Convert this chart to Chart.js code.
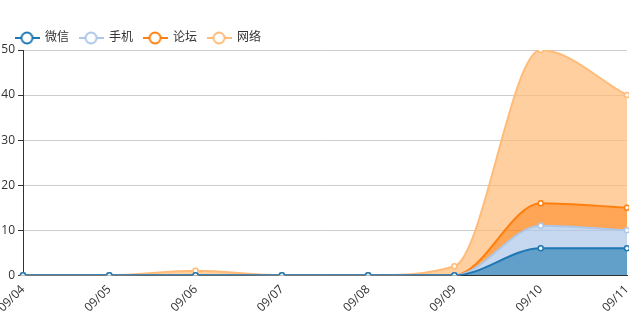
<!DOCTYPE html>
<html>
<head>
<meta charset="utf-8">
<script src="https://cdn.jsdelivr.net/npm/chart.js@4/dist/chart.umd.min.js"></script>
<style>
    html, body { margin: 0; padding: 0; background: #fff; }
    #wrap { width: 629px; height: 320px; }
</style>
</head>
<body>
<div id="wrap"><canvas id="chart" width="629" height="320"></canvas></div>
<script>
const labels = ['09/04', '09/05', '09/06', '09/07', '09/08', '09/09', '09/10', '09/11'];
const names = ['微信', '手机', '论坛', '网络'];
const colors = ['#1f77b4', '#aec7e8', '#ff7f0e', '#ffbb78'];
const fills = ['rgba(31,119,180,0.7)', 'rgba(174,199,232,0.7)', 'rgba(255,127,14,0.7)', 'rgba(255,187,120,0.7)'];

const weixin = [0, 0, 0, 0, 0, 0, 6, 6];
const shouji = [0, 0, 0, 0, 0, 0, 5, 4];
const luntan = [0, 0, 0, 0, 0, 0, 5, 5];
const wangluo = [0, 0, 1, 0, 0, 2, 34, 25];
const series = [weixin, shouji, luntan, wangluo];

const FONT = '"Open Sans", "Noto Sans CJK SC", sans-serif';

// legend icon: short line with an open circle
function legendIcon(color) {
    let c = document.createElement('canvas');
    c.width = 25;
    c.height = 14;
    let ctx = c.getContext('2d');
    ctx.strokeStyle = color;
    ctx.lineWidth = 2;
    ctx.beginPath();
    ctx.moveTo(0, 7);
    ctx.lineTo(25, 7);
    ctx.stroke();
    ctx.beginPath();
    ctx.arc(12.5, 7, 5.5, 0, Math.PI * 2);
    ctx.fillStyle = '#fff';
    ctx.fill();
    ctx.stroke();
    return c;
}

let datasets = series.map(function(data, i) {
    return {
        label: names[i],
        data: data,
        borderColor: colors[i],
        backgroundColor: fills[i],
        borderWidth: 2,
        pointRadius: 2.5,
        pointBorderWidth: 1.5,
        pointBackgroundColor: '#fff',
        pointBorderColor: colors[i],
        cubicInterpolationMode: 'monotone',
        fill: i == 0 ? 'origin' : '-1'
    };
});

// nudge the legend a little right / down, and let the plot run
// almost to the right edge (last label gets cut, as in the original)
const RIGHT_EDGE = 627;
const layoutTweak = {
    id: 'layoutTweak',
    afterLayout: function(ch) {
        ch.legend.left += 5;
        ch.legend.top += 4;
        let area = ch.chartArea;
        area.right = RIGHT_EDGE;
        area.width = area.right - area.left;
        let x = ch.scales.x;
        x.right = RIGHT_EDGE;
        x.width = x.right - x.left;
        x.configure();
    }
};

const chart = new Chart(document.getElementById('chart'), {
    type: 'line',
    data: { labels: labels, datasets: datasets },
    plugins: [layoutTweak],
    options: {
        responsive: false,
        animation: false,
        layout: { padding: { left: 0, right: 2, top: 18, bottom: 3 } },
        plugins: {
            tooltip: { enabled: false },
            legend: {
                display: true,
                position: 'top',
                align: 'start',
                labels: {
                    usePointStyle: true,
                    pointStyleWidth: 24,
                    padding: 10,
                    color: '#333',
                    font: { family: FONT, size: 12 },
                    generateLabels: function(ch) {
                        return ch.data.datasets.map(function(ds, i) {
                            return {
                                text: ds.label,
                                pointStyle: legendIcon(colors[i]),
                                fillStyle: colors[i],
                                strokeStyle: colors[i],
                                lineWidth: 0,
                                fontColor: '#333',
                                datasetIndex: i,
                                hidden: false
                            };
                        });
                    }
                }
            }
        },
        scales: {
            x: {
                offset: false,
                grid: { display: false, drawTicks: true, tickLength: 5, tickColor: '#333' },
                border: { color: '#333', width: 1 },
                ticks: {
                    color: '#333',
                    font: { family: FONT, size: 12 },
                    maxRotation: 45,
                    minRotation: 45,
                    autoSkip: false,
                    padding: 2
                },
                afterFit: function(s) {
                    s.paddingLeft = 0;
                    s.paddingRight = 0;
                }
            },
            y: {
                stacked: true,
                min: 0,
                max: 50,
                ticks: {
                    stepSize: 10,
                    color: '#333',
                    font: { family: FONT, size: 12 },
                    padding: 3
                },
                grid: { color: '#ccc', tickColor: '#333', tickLength: 5 },
                border: { color: '#333', width: 1 },
                afterFit: function(s) { s.width = 23; }
            }
        }
    }
});
</script>
</body>
</html>
